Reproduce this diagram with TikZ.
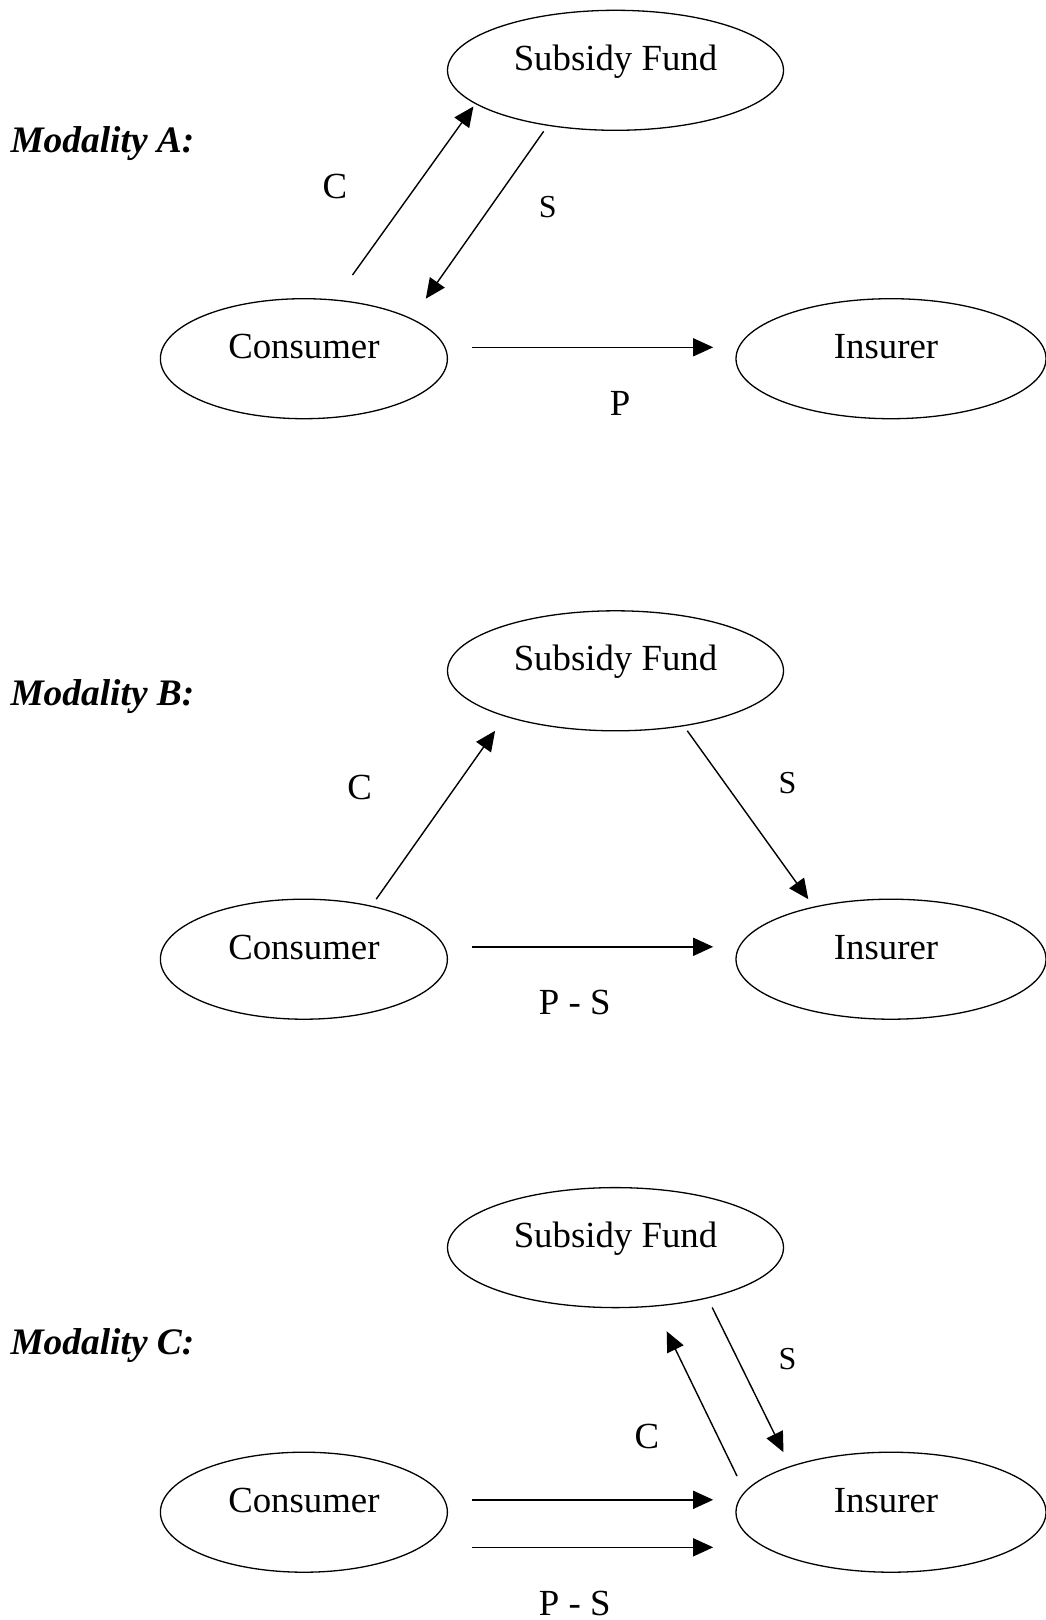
\documentclass[tikz,border=0pt]{standalone}
\usepackage{fontspec}
\setmainfont{Liberation Serif}
\usetikzlibrary{shapes.geometric,arrows.meta}
\begin{document}
\begin{tikzpicture}[x=1pt,y=-1pt,
  oval/.style={draw,ellipse,line width=1.3pt,inner sep=0pt,minimum height=120pt,
    text height=20pt,text depth=20pt,font=\fontsize{36.8}{40}\selectfont},
  sf/.style={oval,minimum width=336pt},
  cons/.style={oval,minimum width=287pt},
  ins/.style={oval,minimum width=310pt},
  flow/.style={line width=1.4pt,-{Triangle[length=20pt,width=18pt]}},
  lbl/.style={font=\fontsize{36.8}{40}\selectfont,inner sep=0pt},
  slbl/.style={font=\fontsize{32}{36}\selectfont,inner sep=0pt},
  modal/.style={font=\fontsize{37.4}{40}\selectfont\bfseries\itshape,inner sep=0pt,anchor=base west}]
\useasboundingbox (0,0) rectangle (1045,1620);

% ---------------- Modality A ----------------
\node[modal] (ma) at (10.3,152) {Modality A:};
\node[sf]   (sfA)  at (615.5,70.3)  {Subsidy Fund};
\node[cons] (conA) at (303.9,358.7) {Consumer};
\node[ins]  (insA) at (891,358.7)   {\hspace*{-10pt}Insurer};
\coordinate (aC1) at (352.5,275);   \coordinate (aC2) at (473.4,106.5);
\coordinate (aS1) at (543.7,131.3); \coordinate (aS2) at (425.8,298.7);
\coordinate (aP1) at (472.4,347.3); \coordinate (aP2) at (713.2,347.3);
\draw[flow] (aC1) -- (aC2);
\draw[flow] (aS1) -- (aS2);
\draw[flow] (aP1) -- (aP2);
\node[lbl]  (lCA) at (334.9,186)   {C};
\node[slbl] (lSA) at (547.8,206.7) {S};
\node[lbl]  (lPA) at (620.2,403)   {P};

% ---------------- Modality B ----------------
\node[modal] (mb) at (10.3,705.4) {Modality B:};
\node[sf]   (sfB)  at (615.5,670.8) {Subsidy Fund};
\node[cons] (conB) at (303.9,959.2) {Consumer};
\node[ins]  (insB) at (891,959.2)   {\hspace*{-10pt}Insurer};
\coordinate (bC1) at (376.2,899.2); \coordinate (bC2) at (495.1,730.8);
\coordinate (bS1) at (687.3,730.8); \coordinate (bS2) at (808.3,899.2);
\coordinate (bP1) at (472.4,946.8); \coordinate (bP2) at (713.2,946.8);
\draw[flow] (bC1) -- (bC2);
\draw[flow] (bS1) -- (bS2);
\draw[flow] (bP1) -- (bP2);
\node[lbl]  (lCB) at (359.7,787.6)  {C};
\node[slbl] (lSB) at (787.6,783.5)  {S};
\node[lbl]  (lPB) at (574.7,1002.6) {P - S};

% ---------------- Modality C ----------------
\node[modal] (mc) at (10.3,1354.5) {Modality C:};
\node[sf]   (sfC)  at (615.5,1247.6) {Subsidy Fund};
\node[cons] (conC) at (303.9,1512.2) {Consumer};
\node[ins]  (insC) at (891,1512.2)   {\hspace*{-10pt}Insurer};
\coordinate (cC1) at (737,1476);    \coordinate (cC2) at (666.7,1331.3);
\coordinate (cS1) at (712.2,1307.5);\coordinate (cS2) at (783.5,1452.2);
\coordinate (cP1) at (472.4,1499.8);\coordinate (cP2) at (713.2,1499.8);
\coordinate (cQ1) at (472.4,1547.3);\coordinate (cQ2) at (713.2,1547.3);
\draw[flow] (cC1) -- (cC2);
\draw[flow] (cS1) -- (cS2);
\draw[flow] (cP1) -- (cP2);
\draw[flow] (cQ1) -- (cQ2);
\node[lbl]  (lCC) at (647,1436.7)   {C};
\node[slbl] (lSC) at (787.6,1359.2) {S};
\node[lbl]  (lPC) at (574.7,1603)   {P - S};
\end{tikzpicture}
\end{document}
